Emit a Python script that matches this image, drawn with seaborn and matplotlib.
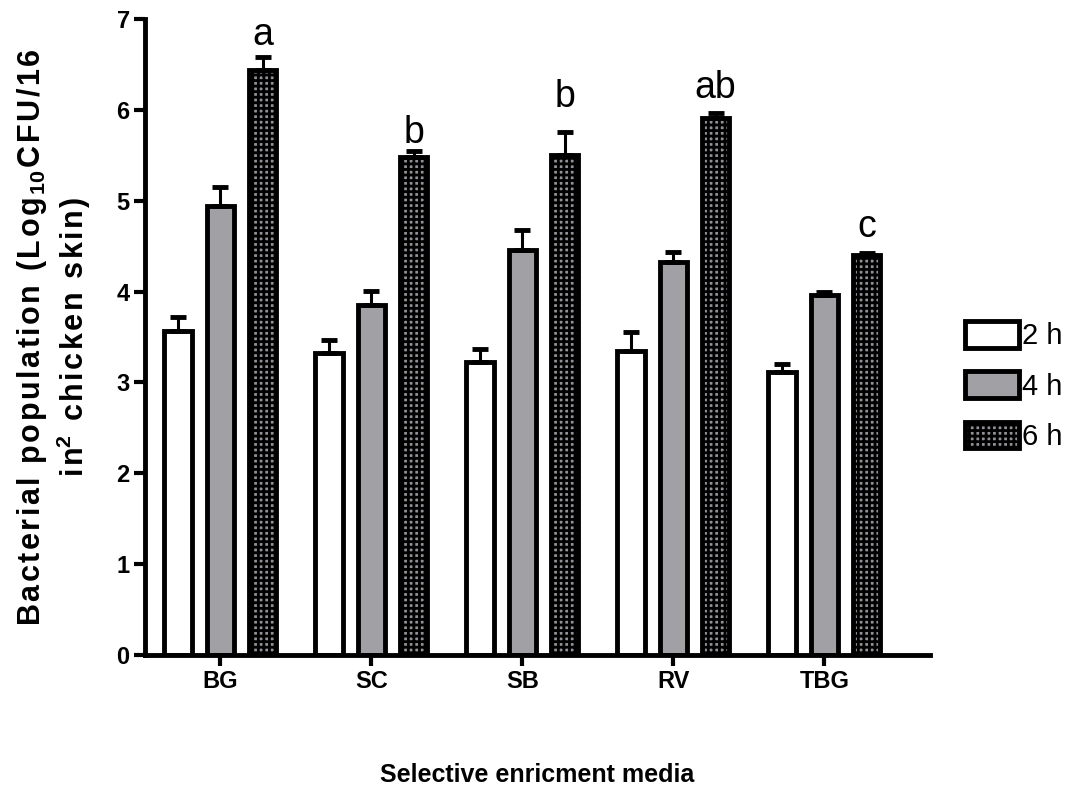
import matplotlib
matplotlib.use("Agg")
import matplotlib.pyplot as plt
from matplotlib.patches import Patch
import seaborn as sns
import pandas as pd
import numpy as np

media = ["BG", "SC", "SB", "RV", "TBG"]
times = ["2 h", "4 h", "6 h"]
mean_2h = [3.57, 3.32, 3.22, 3.35, 3.12]
mean_4h = [4.94, 3.85, 4.46, 4.33, 3.96]
mean_6h = [6.44, 5.48, 5.50, 5.91, 4.40]
sem_2h = [0.15, 0.15, 0.15, 0.20, 0.08]
sem_4h = [0.21, 0.16, 0.22, 0.11, 0.03]
sem_6h = [0.14, 0.07, 0.26, 0.05, 0.03]
letters = ["a", "b", "b", "ab", "c"]
letter_y = [6.71, 5.63, 6.03, 6.13, 4.60]

sns.set_style("ticks")
plt.rcParams['font.family'] = ['Liberation Sans', 'DejaVu Sans']
plt.rcParams['mathtext.fontset'] = 'custom'
plt.rcParams['mathtext.rm'] = 'Liberation Sans:bold'
plt.rcParams['mathtext.bf'] = 'Liberation Sans:bold'
plt.rcParams['hatch.linewidth'] = 2.0
for k in ['text.color', 'axes.labelcolor', 'xtick.color', 'ytick.color', 'axes.edgecolor']:
    plt.rcParams[k] = 'black'

rows = []
for i, m in enumerate(media):
    for t, mv in zip(times, [mean_2h, mean_4h, mean_6h]):
        rows.append({"media": m, "time": t, "value": mv[i]})
df = pd.DataFrame(rows)

fig = plt.figure(figsize=(10.7, 7.95), dpi=100)
ax = fig.add_axes([145/1070, 1-655/795, (930-145)/1070, (655-19)/795])

colors = {"2 h": "white", "4 h": "#a0a0a5", "6 h": "#909096"}
hatches = {"2 h": "", "4 h": "", "6 h": "+++"}
sns.barplot(data=df, x="media", y="value", hue="time", hue_order=times,
            palette=colors, ax=ax, width=0.84, gap=0.35, errorbar=None,
            edgecolor="black", linewidth=3.5, saturation=1, legend=False)

sems = [sem_2h, sem_4h, sem_6h]
means = [mean_2h, mean_4h, mean_6h]
bar_conts = list(ax.containers)
for h, cont in enumerate(bar_conts):
    xs = []
    for p in cont.patches:
        xs.append(p.get_x() + p.get_width() / 2)
        p.set_hatch(hatches[times[h]])
    ax.errorbar(xs, means[h], yerr=[np.zeros(len(xs)), sems[h]], fmt="none",
                ecolor="black", elinewidth=2.2, capsize=6, capthick=3.5, zorder=1)

p6 = bar_conts[2].patches
for i, p in enumerate(p6):
    ax.text(p.get_x() + p.get_width() / 2, letter_y[i], letters[i],
            ha="center", va="baseline", fontsize=27)

ax.set_ylim(0, 7)
ax.set_xlim(-0.5, 4.7)
ax.set_yticks(range(0, 8))
ax.tick_params(axis="both", width=3, length=8, pad=3)
for lab in ax.get_xticklabels() + ax.get_yticklabels():
    lab.set_fontweight("bold")
    lab.set_fontsize(17)
for s in ["left", "bottom"]:
    ax.spines[s].set_linewidth(3.5)
sns.despine(ax=ax)

ax.set_xlabel("Selective enricment media", fontsize=18, fontweight="bold")
ax.xaxis.set_label_coords(0.5, -0.17)

HS = "\u200a"
def spaced(s):
    return HS.join(s)
line1 = spaced("Bacterial population (Log") + HS + "$_{10}$" + HS + spaced("CFU/16")
line2 = spaced("in") + "$^{2}$" + HS + spaced(" chicken skin)")
ax.set_ylabel(line1 + "\n" + line2, fontsize=22, fontweight="bold", linespacing=1.2)
ax.yaxis.set_label_coords(-0.066, 0.5)

handles = [Patch(facecolor=colors[t], edgecolor="black", linewidth=3.5,
                 hatch=hatches[t], label=t) for t in times]
leg = fig.legend(handles=handles, loc="center left",
                 bbox_to_anchor=(939/1070, 1-386/795),
                 frameon=False, handlelength=1.85, handleheight=1.0,
                 handletextpad=0.08, labelspacing=0.72,
                 prop={'size': 21})

fig.savefig("out.png", dpi=100)
